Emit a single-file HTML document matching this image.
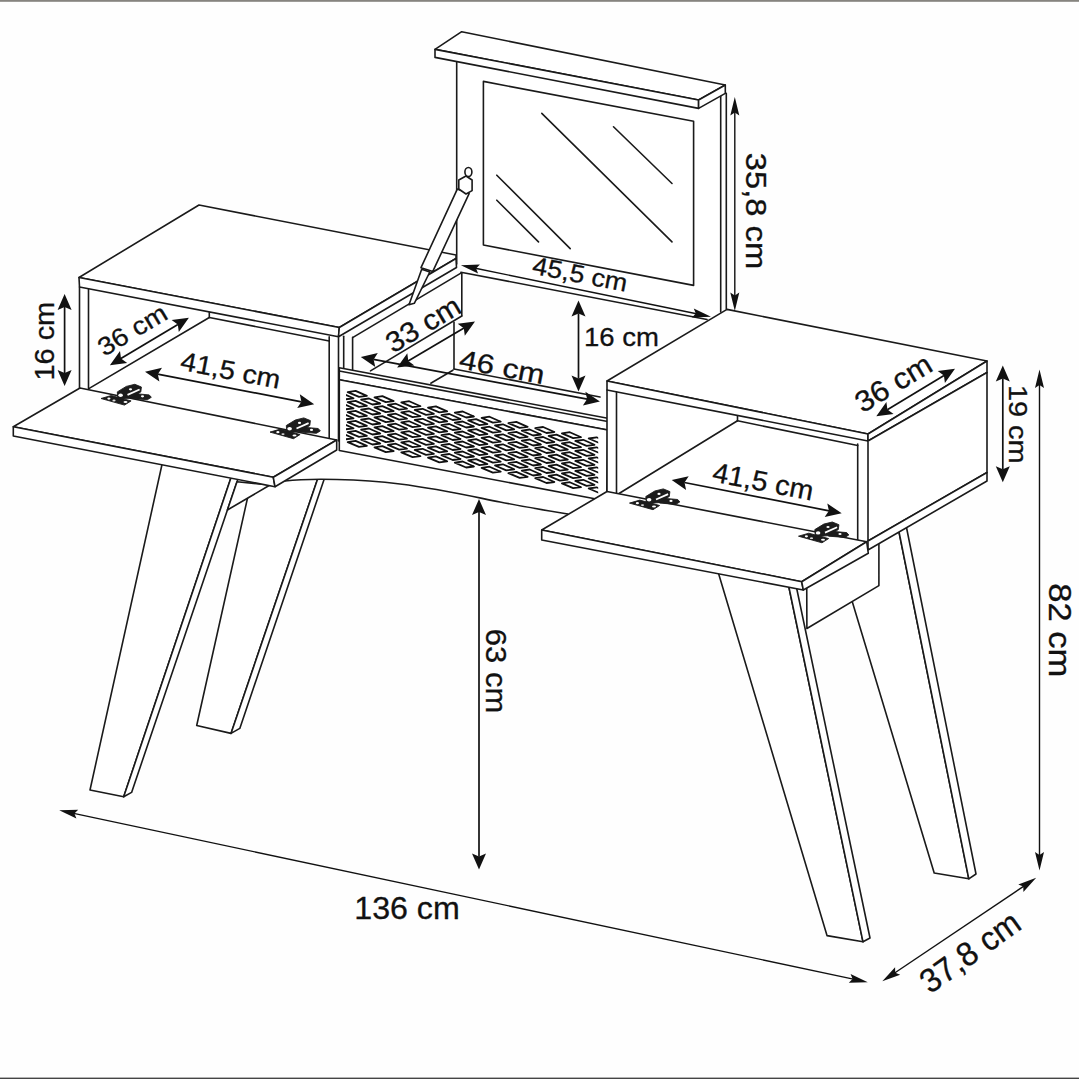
<!DOCTYPE html>
<html><head><meta charset="utf-8"><style>
html,body{margin:0;padding:0;background:#fff;}
svg{display:block;}
text{font-family:"Liberation Sans",sans-serif;fill:#111;stroke:#111;stroke-width:0.3px;}
</style></head><body>
<svg width="1079" height="1079" viewBox="0 0 1079 1079">
<defs><g id="hinge">
<path d="M101,398.5 L111.3,395.5 L131.1,400.9 L124.5,405.1 Z" fill="#1c1c1c" stroke="#1c1c1c" stroke-width="0.9"/>
<path d="M128.7,393.1 L149.2,394.9 L151.3,397.3 L147.4,399.7 L131.1,398.5 Z" fill="#1c1c1c" stroke="#1c1c1c" stroke-width="0.9"/>
<path d="M117.3,391.9 L126.3,386.4 L134.8,384.3 L141.4,387 L140.8,391.9 L131.1,397.9 L117.9,399.1 Z" fill="#1c1c1c" stroke="#1c1c1c" stroke-width="0.9"/>
<path d="M127.5,394.9 L139.6,389.5" stroke="#fff" stroke-width="1.8"/>
<ellipse cx="108.9" cy="398.6" rx="1.6" ry="1.1" fill="#fff"/><ellipse cx="120.6" cy="395.2" rx="2.3" ry="1.7" fill="#fff"/><ellipse cx="114" cy="400.5" rx="1.6" ry="0.9" fill="#ddd"/>
<ellipse cx="125.5" cy="402" rx="2" ry="1" fill="#fff"/><ellipse cx="130.5" cy="389.3" rx="1.6" ry="1.1" fill="#fff"/>
<ellipse cx="142.5" cy="396.3" rx="1.6" ry="1.1" fill="#fff"/>
</g></defs>
<rect x="0" y="0" width="1079" height="1079" fill="#fefefe"/>
<rect x="0" y="0" width="1079" height="1.8" fill="#86847f"/>
<rect x="0" y="1077.6" width="1079" height="1.4" fill="#444"/>
<path d="M252.0,478.0 L318.3,477.0 L231.0,733.4 L196.7,725.5 Z" fill="#fff" stroke="#1a1a1a" stroke-width="1.6" stroke-linejoin="round"/>
<path d="M318.3,477.0 L324.9,477.0 L239.8,728.4 L231.0,733.4 Z" fill="#fff" stroke="#1a1a1a" stroke-width="1.6" stroke-linejoin="round"/>
<path d="M827.6,520.0 L896.6,520.0 L968.8,878.8 L934.2,873.0 Z" fill="#fff" stroke="#1a1a1a" stroke-width="1.6" stroke-linejoin="round"/>
<path d="M896.6,520.0 L905.0,520.0 L976.0,874.0 L968.8,878.8 Z" fill="#fff" stroke="#1a1a1a" stroke-width="1.6" stroke-linejoin="round"/>
<path d="M806.7,575.0 L878.9,540.0 L878.9,585.6 L806.9,628.5 Z" fill="#fff" stroke="#1a1a1a" stroke-width="1.6" stroke-linejoin="round"/>
<path d="M163.0,460.0 L232.9,472.0 L123.7,796.8 L90.0,790.0 Z" fill="#fff" stroke="#1a1a1a" stroke-width="1.6" stroke-linejoin="round"/>
<path d="M232.9,472.0 L240.3,472.0 L131.6,792.4 L123.7,796.8 Z" fill="#fff" stroke="#1a1a1a" stroke-width="1.6" stroke-linejoin="round"/>
<path d="M716.0,565.0 L787.0,578.0 L863.0,941.8 L827.0,935.6 Z" fill="#fff" stroke="#1a1a1a" stroke-width="1.6" stroke-linejoin="round"/>
<path d="M787.0,578.0 L794.5,578.0 L870.0,938.0 L863.0,941.8 Z" fill="#fff" stroke="#1a1a1a" stroke-width="1.6" stroke-linejoin="round"/>
<path d="M270,489 L336.7,450 L339.3,450.5 L606.7,501 L568,514 C550,511 525,507 500,502 C470,496 440,489 400,484 C360,479 310,478 285,481 Z" fill="#fff" stroke="none"/>
<path d="M285,481 C310,478 360,479 400,484 C440,489 470,496 500,502 C525,507 550,511 568,514" stroke="#1a1a1a" stroke-width="1.6" fill="none"/>
<path d="M237.0,481.7 L270.0,485.0 L227.4,510.0 Z" fill="#fff" stroke="#1a1a1a" stroke-width="1.6" stroke-linejoin="round"/>
<path d="M343.7,336.3 L343.7,368.0" fill="none" stroke="#1a1a1a" stroke-width="1.6" stroke-linecap="round"/>
<path d="M352.6,337.4 L352.6,370.0" fill="none" stroke="#1a1a1a" stroke-width="1.6" stroke-linecap="round"/>
<path d="M353.0,337.4 L460.9,273.1" fill="none" stroke="#1a1a1a" stroke-width="1.6" stroke-linecap="round"/>
<path d="M461.8,273.2 L461.8,316.0" fill="none" stroke="#1a1a1a" stroke-width="1.6" stroke-linecap="round"/>
<path d="M370.5,370.9 L461.8,316.0" fill="none" stroke="#1a1a1a" stroke-width="1.6" stroke-linecap="round"/>
<path d="M454.0,322.4 L454.0,369.1" fill="none" stroke="#1a1a1a" stroke-width="1.6" stroke-linecap="round"/>
<path d="M454.0,369.0 L600.0,397.0" fill="none" stroke="#1a1a1a" stroke-width="1.6" stroke-linecap="round"/>
<path d="M430.8,383.2 L452.9,370.2" fill="none" stroke="#1a1a1a" stroke-width="1.6" stroke-linecap="round"/>
<path d="M339.3,367.8 L607.7,418.2 L607.7,430.0 L339.3,379.7 Z" fill="#fff" stroke="#1a1a1a" stroke-width="1.6" stroke-linejoin="round"/>
<path d="M339.3,371.0 L607.7,421.5" fill="none" stroke="#1a1a1a" stroke-width="1.6" stroke-linecap="round"/>
<path d="M339.3,379.7 L607.7,430.0 L606.7,501.0 L339.3,450.5 Z" fill="#fff" stroke="#1a1a1a" stroke-width="1.6" stroke-linejoin="round"/>
<clipPath id="mc"><path d="M346,380 L598.2,420 L598.2,500 L346,460 Z"/></clipPath><g clip-path="url(#mc)" stroke="#111" stroke-width="1.8" fill="#fff" stroke-linejoin="round">
<path d="M347.7,392.1 L355.6,390.9 L366.9,395.9 L359.0,396.9 Z"/>
<path d="M347.7,402.1 L355.6,400.9 L366.9,405.9 L359.0,406.9 Z"/>
<path d="M347.7,412.1 L355.6,410.9 L366.9,415.9 L359.0,416.9 Z"/>
<path d="M347.7,422.1 L355.6,420.9 L366.9,425.9 L359.0,426.9 Z"/>
<path d="M347.7,432.1 L355.6,430.9 L366.9,435.9 L359.0,436.9 Z"/>
<path d="M347.7,442.1 L355.6,440.9 L366.9,445.9 L359.0,446.9 Z"/>
<path d="M374.5,397.3 L382.4,396.1 L393.7,401.1 L385.8,402.1 Z"/>
<path d="M374.5,407.3 L382.4,406.1 L393.7,411.1 L385.8,412.1 Z"/>
<path d="M374.5,417.3 L382.4,416.1 L393.7,421.1 L385.8,422.1 Z"/>
<path d="M374.5,427.3 L382.4,426.1 L393.7,431.1 L385.8,432.1 Z"/>
<path d="M374.5,437.3 L382.4,436.1 L393.7,441.1 L385.8,442.1 Z"/>
<path d="M374.5,447.3 L382.4,446.1 L393.7,451.1 L385.8,452.1 Z"/>
<path d="M401.3,402.4 L409.2,401.2 L420.5,406.2 L412.6,407.2 Z"/>
<path d="M401.3,412.4 L409.2,411.2 L420.5,416.2 L412.6,417.2 Z"/>
<path d="M401.3,422.4 L409.2,421.2 L420.5,426.2 L412.6,427.2 Z"/>
<path d="M401.3,432.4 L409.2,431.2 L420.5,436.2 L412.6,437.2 Z"/>
<path d="M401.3,442.4 L409.2,441.2 L420.5,446.2 L412.6,447.2 Z"/>
<path d="M401.3,452.4 L409.2,451.2 L420.5,456.2 L412.6,457.2 Z"/>
<path d="M428.0,407.6 L435.9,406.4 L447.2,411.4 L439.3,412.4 Z"/>
<path d="M428.0,417.6 L435.9,416.4 L447.2,421.4 L439.3,422.4 Z"/>
<path d="M428.0,427.6 L435.9,426.4 L447.2,431.4 L439.3,432.4 Z"/>
<path d="M428.0,437.6 L435.9,436.4 L447.2,441.4 L439.3,442.4 Z"/>
<path d="M428.0,447.6 L435.9,446.4 L447.2,451.4 L439.3,452.4 Z"/>
<path d="M428.0,457.6 L435.9,456.4 L447.2,461.4 L439.3,462.4 Z"/>
<path d="M454.8,412.7 L462.7,411.5 L474.0,416.5 L466.1,417.5 Z"/>
<path d="M454.8,422.7 L462.7,421.5 L474.0,426.5 L466.1,427.5 Z"/>
<path d="M454.8,432.7 L462.7,431.5 L474.0,436.5 L466.1,437.5 Z"/>
<path d="M454.8,442.7 L462.7,441.5 L474.0,446.5 L466.1,447.5 Z"/>
<path d="M454.8,452.7 L462.7,451.5 L474.0,456.5 L466.1,457.5 Z"/>
<path d="M454.8,462.7 L462.7,461.5 L474.0,466.5 L466.1,467.5 Z"/>
<path d="M481.6,417.9 L489.5,416.7 L500.8,421.7 L492.9,422.7 Z"/>
<path d="M481.6,427.9 L489.5,426.7 L500.8,431.7 L492.9,432.7 Z"/>
<path d="M481.6,437.9 L489.5,436.7 L500.8,441.7 L492.9,442.7 Z"/>
<path d="M481.6,447.9 L489.5,446.7 L500.8,451.7 L492.9,452.7 Z"/>
<path d="M481.6,457.9 L489.5,456.7 L500.8,461.7 L492.9,462.7 Z"/>
<path d="M481.6,467.9 L489.5,466.7 L500.8,471.7 L492.9,472.7 Z"/>
<path d="M508.4,423.1 L516.3,421.9 L527.6,426.9 L519.7,427.9 Z"/>
<path d="M508.4,433.1 L516.3,431.9 L527.6,436.9 L519.7,437.9 Z"/>
<path d="M508.4,443.1 L516.3,441.9 L527.6,446.9 L519.7,447.9 Z"/>
<path d="M508.4,453.1 L516.3,451.9 L527.6,456.9 L519.7,457.9 Z"/>
<path d="M508.4,463.1 L516.3,461.9 L527.6,466.9 L519.7,467.9 Z"/>
<path d="M508.4,473.1 L516.3,471.9 L527.6,476.9 L519.7,477.9 Z"/>
<path d="M535.2,428.2 L543.1,427.0 L554.4,432.0 L546.5,433.0 Z"/>
<path d="M535.2,438.2 L543.1,437.0 L554.4,442.0 L546.5,443.0 Z"/>
<path d="M535.2,448.2 L543.1,447.0 L554.4,452.0 L546.5,453.0 Z"/>
<path d="M535.2,458.2 L543.1,457.0 L554.4,462.0 L546.5,463.0 Z"/>
<path d="M535.2,468.2 L543.1,467.0 L554.4,472.0 L546.5,473.0 Z"/>
<path d="M535.2,478.2 L543.1,477.0 L554.4,482.0 L546.5,483.0 Z"/>
<path d="M561.9,433.4 L569.8,432.2 L581.1,437.2 L573.2,438.2 Z"/>
<path d="M561.9,443.4 L569.8,442.2 L581.1,447.2 L573.2,448.2 Z"/>
<path d="M561.9,453.4 L569.8,452.2 L581.1,457.2 L573.2,458.2 Z"/>
<path d="M561.9,463.4 L569.8,462.2 L581.1,467.2 L573.2,468.2 Z"/>
<path d="M561.9,473.4 L569.8,472.2 L581.1,477.2 L573.2,478.2 Z"/>
<path d="M561.9,483.4 L569.8,482.2 L581.1,487.2 L573.2,488.2 Z"/>
<path d="M588.7,438.5 L596.6,437.3 L607.9,442.3 L600.0,443.3 Z"/>
<path d="M588.7,448.5 L596.6,447.3 L607.9,452.3 L600.0,453.3 Z"/>
<path d="M588.7,458.5 L596.6,457.3 L607.9,462.3 L600.0,463.3 Z"/>
<path d="M588.7,468.5 L596.6,467.3 L607.9,472.3 L600.0,473.3 Z"/>
<path d="M588.7,478.5 L596.6,477.3 L607.9,482.3 L600.0,483.3 Z"/>
<path d="M588.7,488.5 L596.6,487.3 L607.9,492.3 L600.0,493.3 Z"/>
<path d="M334.3,394.5 L342.2,393.3 L353.5,398.3 L345.6,399.3 Z"/>
<path d="M334.3,404.5 L342.2,403.3 L353.5,408.3 L345.6,409.3 Z"/>
<path d="M334.3,414.5 L342.2,413.3 L353.5,418.3 L345.6,419.3 Z"/>
<path d="M334.3,424.5 L342.2,423.3 L353.5,428.3 L345.6,429.3 Z"/>
<path d="M334.3,434.5 L342.2,433.3 L353.5,438.3 L345.6,439.3 Z"/>
<path d="M361.1,399.7 L369.0,398.5 L380.3,403.5 L372.4,404.5 Z"/>
<path d="M361.1,409.7 L369.0,408.5 L380.3,413.5 L372.4,414.5 Z"/>
<path d="M361.1,419.7 L369.0,418.5 L380.3,423.5 L372.4,424.5 Z"/>
<path d="M361.1,429.7 L369.0,428.5 L380.3,433.5 L372.4,434.5 Z"/>
<path d="M361.1,439.7 L369.0,438.5 L380.3,443.5 L372.4,444.5 Z"/>
<path d="M387.9,404.9 L395.8,403.7 L407.1,408.7 L399.2,409.7 Z"/>
<path d="M387.9,414.9 L395.8,413.7 L407.1,418.7 L399.2,419.7 Z"/>
<path d="M387.9,424.9 L395.8,423.7 L407.1,428.7 L399.2,429.7 Z"/>
<path d="M387.9,434.9 L395.8,433.7 L407.1,438.7 L399.2,439.7 Z"/>
<path d="M387.9,444.9 L395.8,443.7 L407.1,448.7 L399.2,449.7 Z"/>
<path d="M414.7,410.0 L422.6,408.8 L433.9,413.8 L426.0,414.8 Z"/>
<path d="M414.7,420.0 L422.6,418.8 L433.9,423.8 L426.0,424.8 Z"/>
<path d="M414.7,430.0 L422.6,428.8 L433.9,433.8 L426.0,434.8 Z"/>
<path d="M414.7,440.0 L422.6,438.8 L433.9,443.8 L426.0,444.8 Z"/>
<path d="M414.7,450.0 L422.6,448.8 L433.9,453.8 L426.0,454.8 Z"/>
<path d="M441.4,415.2 L449.3,414.0 L460.6,419.0 L452.7,420.0 Z"/>
<path d="M441.4,425.2 L449.3,424.0 L460.6,429.0 L452.7,430.0 Z"/>
<path d="M441.4,435.2 L449.3,434.0 L460.6,439.0 L452.7,440.0 Z"/>
<path d="M441.4,445.2 L449.3,444.0 L460.6,449.0 L452.7,450.0 Z"/>
<path d="M441.4,455.2 L449.3,454.0 L460.6,459.0 L452.7,460.0 Z"/>
<path d="M468.2,420.3 L476.1,419.1 L487.4,424.1 L479.5,425.1 Z"/>
<path d="M468.2,430.3 L476.1,429.1 L487.4,434.1 L479.5,435.1 Z"/>
<path d="M468.2,440.3 L476.1,439.1 L487.4,444.1 L479.5,445.1 Z"/>
<path d="M468.2,450.3 L476.1,449.1 L487.4,454.1 L479.5,455.1 Z"/>
<path d="M468.2,460.3 L476.1,459.1 L487.4,464.1 L479.5,465.1 Z"/>
<path d="M495.0,425.5 L502.9,424.3 L514.2,429.3 L506.3,430.3 Z"/>
<path d="M495.0,435.5 L502.9,434.3 L514.2,439.3 L506.3,440.3 Z"/>
<path d="M495.0,445.5 L502.9,444.3 L514.2,449.3 L506.3,450.3 Z"/>
<path d="M495.0,455.5 L502.9,454.3 L514.2,459.3 L506.3,460.3 Z"/>
<path d="M495.0,465.5 L502.9,464.3 L514.2,469.3 L506.3,470.3 Z"/>
<path d="M521.8,430.7 L529.7,429.5 L541.0,434.5 L533.1,435.5 Z"/>
<path d="M521.8,440.7 L529.7,439.5 L541.0,444.5 L533.1,445.5 Z"/>
<path d="M521.8,450.7 L529.7,449.5 L541.0,454.5 L533.1,455.5 Z"/>
<path d="M521.8,460.7 L529.7,459.5 L541.0,464.5 L533.1,465.5 Z"/>
<path d="M521.8,470.7 L529.7,469.5 L541.0,474.5 L533.1,475.5 Z"/>
<path d="M548.6,435.8 L556.5,434.6 L567.8,439.6 L559.9,440.6 Z"/>
<path d="M548.6,445.8 L556.5,444.6 L567.8,449.6 L559.9,450.6 Z"/>
<path d="M548.6,455.8 L556.5,454.6 L567.8,459.6 L559.9,460.6 Z"/>
<path d="M548.6,465.8 L556.5,464.6 L567.8,469.6 L559.9,470.6 Z"/>
<path d="M548.6,475.8 L556.5,474.6 L567.8,479.6 L559.9,480.6 Z"/>
<path d="M575.3,441.0 L583.2,439.8 L594.5,444.8 L586.6,445.8 Z"/>
<path d="M575.3,451.0 L583.2,449.8 L594.5,454.8 L586.6,455.8 Z"/>
<path d="M575.3,461.0 L583.2,459.8 L594.5,464.8 L586.6,465.8 Z"/>
<path d="M575.3,471.0 L583.2,469.8 L594.5,474.8 L586.6,475.8 Z"/>
<path d="M575.3,481.0 L583.2,479.8 L594.5,484.8 L586.6,485.8 Z"/>
</g>
<path d="M456.7,264 L456.7,61.6 L720.3,96.2 L720.3,318 Z" fill="#fff" stroke="none"/>
<path d="M456.7,264.0 L456.7,61.6" fill="none" stroke="#1a1a1a" stroke-width="1.6" stroke-linecap="round"/>
<path d="M720.7,96.2 L720.7,312.0" fill="none" stroke="#1a1a1a" stroke-width="1.6" stroke-linecap="round"/>
<path d="M726.3,93.4 L726.3,309.0" fill="none" stroke="#1a1a1a" stroke-width="1.6" stroke-linecap="round"/>
<path d="M483.4,81.4 L693.6,121.3 L693.6,285.4 L483.4,245.0 Z" fill="#fff" stroke="#1a1a1a" stroke-width="1.6" stroke-linejoin="round"/>
<path d="M541.8,113.4 L672.0,241.9" fill="none" stroke="#1a1a1a" stroke-width="1.6" stroke-linecap="round"/>
<path d="M613.5,126.8 L672.0,183.5" fill="none" stroke="#1a1a1a" stroke-width="1.6" stroke-linecap="round"/>
<path d="M496.8,175.2 L570.2,248.6" fill="none" stroke="#1a1a1a" stroke-width="1.6" stroke-linecap="round"/>
<path d="M496.8,200.2 L538.5,241.9" fill="none" stroke="#1a1a1a" stroke-width="1.6" stroke-linecap="round"/>
<path d="M435.0,49.4 L461.7,31.7 L725.3,85.0 L698.6,100.0 Z" fill="#fff" stroke="#1a1a1a" stroke-width="1.6" stroke-linejoin="round"/>
<path d="M435.0,49.4 L698.6,100.0 L698.6,108.4 L435.0,57.4 Z" fill="#fff" stroke="#1a1a1a" stroke-width="1.6" stroke-linejoin="round"/>
<path d="M698.6,100.0 L725.3,85.0 L725.3,93.4 L698.6,108.4 Z" fill="#fff" stroke="#1a1a1a" stroke-width="1.6" stroke-linejoin="round"/>
<path d="M460.9,272.2 L707.0,319.5" fill="none" stroke="#1a1a1a" stroke-width="1.6" stroke-linecap="round"/>
<path d="M79,277.5 L199,205 L456,255 L456.5,267.5 L338.5,336.7 L338.5,441 L80,388 Z" fill="#fff"/>
<path d="M79.0,277.5 L199.0,205.0 L456.0,255.0 L456.0,258.5 L339.3,327.5 Z" fill="#fff" stroke="#1a1a1a" stroke-width="1.6" stroke-linejoin="round"/>
<path d="M79.0,277.5 L339.3,327.5 L338.5,336.7 L79.5,287.0 Z" fill="#fff" stroke="#1a1a1a" stroke-width="1.6" stroke-linejoin="round"/>
<path d="M339.3,327.5 L456.0,258.5 L456.5,267.5 L338.5,336.7 Z" fill="#fff" stroke="#1a1a1a" stroke-width="1.6" stroke-linejoin="round"/>
<path d="M79.5,287.0 L79.5,388.0" fill="none" stroke="#1a1a1a" stroke-width="1.6" stroke-linecap="round"/>
<path d="M88.5,289.0 L88.5,388.6" fill="none" stroke="#1a1a1a" stroke-width="1.6" stroke-linecap="round"/>
<path d="M329.2,336.7 L329.2,439.0" fill="none" stroke="#1a1a1a" stroke-width="1.6" stroke-linecap="round"/>
<path d="M338.5,336.7 L338.5,441.0" fill="none" stroke="#1a1a1a" stroke-width="1.6" stroke-linecap="round"/>
<path d="M88.8,388.6 L209.3,317.5" fill="none" stroke="#1a1a1a" stroke-width="1.6" stroke-linecap="round"/>
<path d="M209.3,312.5 L209.3,317.5" fill="none" stroke="#1a1a1a" stroke-width="1.6" stroke-linecap="round"/>
<path d="M209.3,317.5 L329.2,341.0" fill="none" stroke="#1a1a1a" stroke-width="1.6" stroke-linecap="round"/>
<path d="M457.3,189.1 L469.1,193.6 L432.8,271.4 L421.0,267.7 Z" fill="#fff" stroke="#1a1a1a" stroke-width="1.6" stroke-linejoin="round"/>
<path d="M421.7,269.2 L429.8,272.0 L414.3,303.3 L409.0,304.8 Z" fill="#fff" stroke="#1a1a1a" stroke-width="1.6" stroke-linejoin="round"/>
<path d="M458.8,180.0 L466.0,176.0 L472.1,180.0 L472.1,190.6 L466.0,194.0 L458.8,189.0 Z" fill="#fff" stroke="#1a1a1a" stroke-width="1.6" stroke-linejoin="round"/>
<ellipse cx="468.4" cy="172" rx="3.5" ry="4.5" fill="#fff" stroke="#1a1a1a" stroke-width="1.6"/>
<path d="M607,381 L727,309.4 L987,361 L987,481 L868,550 L607,495 Z" fill="#fff"/>
<path d="M607.0,381.0 L727.0,309.4 L987.0,361.0 L868.0,434.0 Z" fill="#fff" stroke="#1a1a1a" stroke-width="1.6" stroke-linejoin="round"/>
<path d="M607.0,381.0 L868.0,434.0 L868.0,441.0 L607.0,390.0 Z" fill="#fff" stroke="#1a1a1a" stroke-width="1.6" stroke-linejoin="round"/>
<path d="M868.0,434.0 L987.0,361.0 L987.0,372.5 L868.0,441.0 Z" fill="#fff" stroke="#1a1a1a" stroke-width="1.6" stroke-linejoin="round"/>
<path d="M868.0,441.0 L987.0,372.5 L987.0,472.5 L868.0,541.0 Z" fill="#fff" stroke="#1a1a1a" stroke-width="1.6" stroke-linejoin="round"/>
<path d="M868.0,541.0 L987.0,472.5 L987.0,481.0 L868.0,550.0 Z" fill="#fff" stroke="#1a1a1a" stroke-width="1.6" stroke-linejoin="round"/>
<path d="M607.0,390.0 L607.0,493.0" fill="none" stroke="#1a1a1a" stroke-width="1.6" stroke-linecap="round"/>
<path d="M616.5,392.0 L616.5,495.0" fill="none" stroke="#1a1a1a" stroke-width="1.6" stroke-linecap="round"/>
<path d="M857.7,444.0 L857.7,541.0" fill="none" stroke="#1a1a1a" stroke-width="1.6" stroke-linecap="round"/>
<path d="M617.0,494.7 L737.5,420.8" fill="none" stroke="#1a1a1a" stroke-width="1.6" stroke-linecap="round"/>
<path d="M737.5,420.8 L857.7,445.5" fill="none" stroke="#1a1a1a" stroke-width="1.6" stroke-linecap="round"/>
<path d="M737.5,416.0 L737.5,420.8" fill="none" stroke="#1a1a1a" stroke-width="1.6" stroke-linecap="round"/>
<path d="M13.3,426.7 L80.0,388.0 L336.7,440.0 L273.3,477.3 Z" fill="#fff" stroke="#1a1a1a" stroke-width="1.6" stroke-linejoin="round"/>
<path d="M13.3,426.7 L273.3,477.3 L275.0,486.7 L13.3,436.0 Z" fill="#fff" stroke="#1a1a1a" stroke-width="1.6" stroke-linejoin="round"/>
<path d="M273.3,477.3 L336.7,440.0 L336.7,450.0 L275.0,486.7 Z" fill="#fff" stroke="#1a1a1a" stroke-width="1.6" stroke-linejoin="round"/>
<path d="M541.7,530.0 L607.0,491.5 L866.7,541.7 L801.7,581.7 Z" fill="#fff" stroke="#1a1a1a" stroke-width="1.6" stroke-linejoin="round"/>
<path d="M541.7,530.0 L801.7,581.7 L803.3,590.0 L541.7,540.0 Z" fill="#fff" stroke="#1a1a1a" stroke-width="1.6" stroke-linejoin="round"/>
<path d="M801.7,581.7 L866.7,541.7 L868.3,553.3 L803.3,590.0 Z" fill="#fff" stroke="#1a1a1a" stroke-width="1.6" stroke-linejoin="round"/>
<use href="#hinge" transform="translate(0.0,0.0)"/>
<use href="#hinge" transform="translate(169.0,33.6)"/>
<use href="#hinge" transform="translate(528.5,104.6)"/>
<use href="#hinge" transform="translate(697.5,137.7)"/>
<path d="M64.6,306.8 L64.6,373.2" stroke="#111" stroke-width="1.7" fill="none"/>
<path d="M64.6,386.0 L57.6,370.0 L64.6,373.0 L71.6,370.0 Z" fill="#111"/>
<path d="M64.6,294.0 L57.6,310.0 L64.6,307.0 L71.6,310.0 Z" fill="#111"/>
<path d="M120.9,358.6 L177.9,324.4" stroke="#111" stroke-width="1.7" fill="none"/>
<path d="M188.9,317.8 L178.8,332.0 L177.8,324.5 L171.6,320.0 Z" fill="#111"/>
<path d="M109.9,365.2 L127.2,363.0 L121.0,358.5 L120.0,351.0 Z" fill="#111"/>
<path d="M157.6,374.1 L301.6,401.8" stroke="#111" stroke-width="1.7" fill="none"/>
<path d="M314.2,404.2 L297.2,408.1 L301.4,401.7 L299.8,394.3 Z" fill="#111"/>
<path d="M145.0,371.7 L159.4,381.6 L157.8,374.2 L162.0,367.8 Z" fill="#111"/>
<path d="M408.1,361.0 L464.0,328.1" stroke="#111" stroke-width="1.7" fill="none"/>
<path d="M475.0,321.6 L464.8,335.8 L463.8,328.2 L457.7,323.7 Z" fill="#111"/>
<path d="M397.1,367.5 L414.4,365.4 L408.3,360.9 L407.3,353.3 Z" fill="#111"/>
<path d="M373.4,359.4 L587.3,399.2" stroke="#111" stroke-width="1.7" fill="none"/>
<path d="M599.9,401.5 L582.9,405.5 L587.1,399.1 L585.4,391.7 Z" fill="#111"/>
<path d="M360.8,357.1 L375.3,366.9 L373.6,359.5 L377.8,353.1 Z" fill="#111"/>
<path d="M475.4,268.3 L696.5,313.7" stroke="#111" stroke-width="1.4" fill="none"/>
<path d="M711.0,316.7 L692.0,317.4 L695.8,313.6 L693.8,308.6 Z" fill="#111"/>
<path d="M460.9,265.3 L478.1,273.4 L476.1,268.4 L479.9,264.6 Z" fill="#111"/>
<path d="M578.5,313.3 L578.5,378.7" stroke="#111" stroke-width="1.7" fill="none"/>
<path d="M578.5,391.5 L571.5,375.5 L578.5,378.5 L585.5,375.5 Z" fill="#111"/>
<path d="M578.5,300.5 L571.5,316.5 L578.5,313.5 L585.5,316.5 Z" fill="#111"/>
<path d="M734.8,111.8 L734.8,296.2" stroke="#111" stroke-width="1.4" fill="none"/>
<path d="M734.8,311.0 L730.3,292.5 L734.8,295.5 L739.3,292.5 Z" fill="#111"/>
<path d="M734.8,97.0 L730.3,115.5 L734.8,112.5 L739.3,115.5 Z" fill="#111"/>
<path d="M887.3,409.7 L944.0,375.4" stroke="#111" stroke-width="1.7" fill="none"/>
<path d="M955.0,368.8 L944.9,383.1 L943.9,375.5 L937.7,371.1 Z" fill="#111"/>
<path d="M876.3,416.3 L893.6,414.0 L887.4,409.6 L886.4,402.0 Z" fill="#111"/>
<path d="M1002.8,378.2 L1002.8,469.5" stroke="#111" stroke-width="1.7" fill="none"/>
<path d="M1002.8,482.3 L995.8,466.3 L1002.8,469.3 L1009.8,466.3 Z" fill="#111"/>
<path d="M1002.8,365.4 L995.8,381.4 L1002.8,378.4 L1009.8,381.4 Z" fill="#111"/>
<path d="M1039.5,384.3 L1039.5,855.8" stroke="#111" stroke-width="1.4" fill="none"/>
<path d="M1039.5,870.6 L1035.0,852.1 L1039.5,855.1 L1044.0,852.1 Z" fill="#111"/>
<path d="M1039.5,369.5 L1035.0,388.0 L1039.5,385.0 L1044.0,388.0 Z" fill="#111"/>
<path d="M684.3,482.5 L829.1,510.8" stroke="#111" stroke-width="1.7" fill="none"/>
<path d="M841.7,513.3 L824.7,517.1 L828.9,510.8 L827.3,503.4 Z" fill="#111"/>
<path d="M671.7,480.0 L686.1,489.9 L684.5,482.5 L688.7,476.2 Z" fill="#111"/>
<path d="M479.0,511.8 L479.0,856.7" stroke="#111" stroke-width="1.7" fill="none"/>
<path d="M479.0,869.5 L472.0,853.5 L479.0,856.5 L486.0,853.5 Z" fill="#111"/>
<path d="M479.0,499.0 L472.0,515.0 L479.0,512.0 L486.0,515.0 Z" fill="#111"/>
<path d="M73.7,813.4 L853.3,979.1" stroke="#111" stroke-width="1.4" fill="none"/>
<path d="M867.8,982.2 L848.8,982.8 L852.6,979.0 L850.6,974.0 Z" fill="#111"/>
<path d="M59.2,810.3 L76.4,818.5 L74.4,813.5 L78.2,809.7 Z" fill="#111"/>
<path d="M894.6,973.0 L1023.9,886.1" stroke="#111" stroke-width="1.4" fill="none"/>
<path d="M1036.2,877.8 L1023.4,891.9 L1023.3,886.4 L1018.3,884.4 Z" fill="#111"/>
<path d="M882.3,981.3 L900.2,974.7 L895.2,972.7 L895.1,967.2 Z" fill="#111"/>
<g transform="translate(44.0,341.2) rotate(-90)"><text x="0" y="9.7" text-anchor="middle" font-size="27.1" textLength="78.7" lengthAdjust="spacingAndGlyphs">16 cm</text></g>
<g transform="translate(132.1,329.7) rotate(-31)"><text x="0" y="9.1" text-anchor="middle" font-size="25.4" textLength="76.0" lengthAdjust="spacingAndGlyphs">36 cm</text></g>
<g transform="translate(230.7,370.0) rotate(11)"><text x="0" y="9.4" text-anchor="middle" font-size="26.3" textLength="101.1" lengthAdjust="spacingAndGlyphs">41,5 cm</text></g>
<g transform="translate(422.8,323.9) rotate(-31)"><text x="0" y="10.2" text-anchor="middle" font-size="28.5" textLength="81.8" lengthAdjust="spacingAndGlyphs">33 cm</text></g>
<g transform="translate(502.1,366.6) rotate(11)"><text x="0" y="9.7" text-anchor="middle" font-size="27.0" textLength="86.2" lengthAdjust="spacingAndGlyphs">46 cm</text></g>
<g transform="translate(580.2,273.8) rotate(11)"><text x="0" y="9.0" text-anchor="middle" font-size="25.1" textLength="96.0" lengthAdjust="spacingAndGlyphs">45,5 cm</text></g>
<g transform="translate(621.4,336.4) rotate(0)"><text x="0" y="9.5" text-anchor="middle" font-size="26.5" textLength="74.9" lengthAdjust="spacingAndGlyphs">16 cm</text></g>
<g transform="translate(756.5,211.0) rotate(90)"><text x="0" y="10.5" text-anchor="middle" font-size="29.3" textLength="116.3" lengthAdjust="spacingAndGlyphs">35,8 cm</text></g>
<g transform="translate(893.1,382.7) rotate(-31)"><text x="0" y="10.5" text-anchor="middle" font-size="29.3" textLength="84.3" lengthAdjust="spacingAndGlyphs">36 cm</text></g>
<g transform="translate(1018.2,424.2) rotate(90)"><text x="0" y="9.3" text-anchor="middle" font-size="26.0" textLength="78.6" lengthAdjust="spacingAndGlyphs">19 cm</text></g>
<g transform="translate(1060.7,630.3) rotate(90)"><text x="0" y="11.4" text-anchor="middle" font-size="32.0" textLength="94.1" lengthAdjust="spacingAndGlyphs">82 cm</text></g>
<g transform="translate(763.2,481.1) rotate(11)"><text x="0" y="10.0" text-anchor="middle" font-size="27.9" textLength="102.2" lengthAdjust="spacingAndGlyphs">41,5 cm</text></g>
<g transform="translate(496.7,671.0) rotate(90)"><text x="0" y="10.5" text-anchor="middle" font-size="29.3" textLength="84.5" lengthAdjust="spacingAndGlyphs">63 cm</text></g>
<g transform="translate(407.0,907.5) rotate(0)"><text x="0" y="11.1" text-anchor="middle" font-size="31.0" textLength="105.5" lengthAdjust="spacingAndGlyphs">136 cm</text></g>
<g transform="translate(969.8,951.5) rotate(-35.5)"><text x="0" y="12.0" text-anchor="middle" font-size="33.5" textLength="114.7" lengthAdjust="spacingAndGlyphs">37,8 cm</text></g>
</svg></body></html>
